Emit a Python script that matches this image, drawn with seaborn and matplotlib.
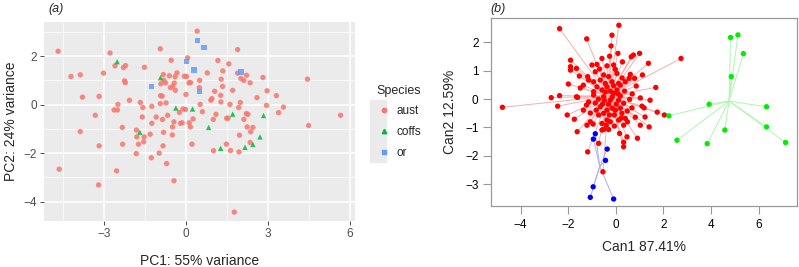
import matplotlib
matplotlib.use('Agg')
import matplotlib.pyplot as plt
import seaborn as sns
import pandas as pd
import numpy as np
from matplotlib.lines import Line2D
from matplotlib.patches import Rectangle

# ---- panel (a): PCA scores ----
aust_pc1 = [-4.69, -2.79, -2.61, -2.22, -2.30, -1.53, -0.95, -0.55, 0.40, -4.22, -3.88, -3.03, -2.26, -2.23,
            -0.84, -0.62, -0.34, -0.41, 0.01, 0.05, -0.82, -0.93, -0.76, -0.58, -0.44, -0.49, -0.40, 0.10,
            0.16, -0.01, 0.49, -3.80, -3.19, -2.08, -1.68, -2.50, -2.64, -2.52, -1.59, -1.26, -0.94, -0.88,
            -0.95, -0.74, -0.25, -0.03, 0.51, -0.68, -3.33, -1.61, -1.10, -0.87, -1.26, -0.45, -0.21, 0.11,
            0.15, 0.25, -2.34, -3.88, -1.82, -1.32, -0.83, -0.51, -0.50, -1.81, -1.54, -3.19, -2.33, -1.75,
            -1.56, -0.85, 0.21, -1.83, -0.99, -1.28, -0.72, -4.65, -2.55, -0.45, -3.21, 1.95, 2.36, 2.34,
            1.47, 1.00, 1.62, 1.93, 1.76, 1.88, 1.16, 1.56, 0.77, 1.34, 1.88, 2.21, -0.07, 1.28, 2.00, 2.11,
            2.34, 2.81, 4.44, 0.48, 1.33, 1.70, 1.04, 2.96, 3.30, 1.26, 2.59, 0.90, 0.94, 1.27, 1.98, 1.60,
            2.94, 3.56, 1.92, -0.12, 0.59, 3.38, 5.65, 2.20, 2.26, 1.09, 1.48, 1.53, 0.99, 2.11, -0.15, 4.48,
            2.23, 2.44]
aust_pc2 = [2.20, 2.13, 1.60, 1.61, 1.53, 1.54, 2.30, 1.83, 3.03, 1.16, 1.23, 1.30, 0.98, 0.90,
            1.24, 1.19, 1.31, 1.15, 1.16, 1.93, 1.00, 0.86, 0.90, 0.70, 0.89, 0.75, 0.59, 0.90,
            0.91, 0.42, 1.00, 0.31, 0.34, 0.18, 0.09, 0.01, -0.22, -0.22, -0.12, -0.07, 0.37, 0.35,
            0.04, 0.07, -0.32, -0.20, 0.01, -0.44, -0.44, -0.51, -0.51, -0.61, -0.77, -0.71, -0.77, -0.75,
            -0.92, -0.59, -0.94, -1.11, -1.05, -1.22, -1.14, -1.25, -0.92, -1.33, -1.33, -1.70, -1.63, -1.63,
            -1.53, -1.70, -1.63, -2.02, -2.00, -2.19, -2.43, -2.66, -2.73, -3.14, -3.31, -1.26, -1.12, -1.56,
            -1.63, -1.90, -1.89, -1.95, -4.43, 2.27, 1.82, 1.68, 1.31, 1.39, 1.30, 1.21, 1.17, 1.05, 1.08, 1.00,
            0.90, 1.12, 1.05, 0.70, 0.75, 0.59, 0.55, 0.57, 0.37, 0.38, 0.29, 0.18, 0.25, 0.11, 0.09, 0.01,
            -0.03, -0.10, -0.12, -0.18, -0.29, -0.33, -0.44, -0.37, -0.40, -0.40, -0.56, -0.56, -0.61, -0.61, -0.75, -0.86,
            -0.92, -0.94]
coffs_pc1 = [-2.53, -0.94, -0.38, 0.23, -1.70, 1.70, 2.83, 0.82, 2.70, 2.44, 1.26, 2.15]
coffs_pc2 = [1.77, 1.11, -0.14, -0.18, -1.14, -0.39, -0.45, -0.94, -1.33, -1.64, -1.80, -1.76]
or_pc1 = [0.41, 0.65, 0.00, 0.29, -1.28, 0.49, 2.00]
or_pc2 = [2.65, 2.36, 1.77, 1.43, 0.75, 0.55, 1.34]

# ---- panel (b): canonical scores ----
red_can1 = [-2.36, -1.22, -0.16, -0.20, 0.13, -0.26, -0.58, -1.90, -1.90, -1.90, -1.65, -1.00, -0.79, -0.68,
            -0.86, -0.37, -0.09, -0.02, -1.18, -1.14, -0.93, -0.51, -0.30, -0.65, -0.44, -0.16, -0.79, -0.37,
            -0.09, -0.93, -0.58, -0.23, 0.05, 0.09, 0.65, 0.74, 1.00, 0.28, 1.37, 0.61, 0.56, 0.79, 1.12, 0.05,
            0.12, 0.19, 0.37, 1.68, 2.74, 0.40, 0.58, 0.33, 1.10, 1.19, 0.68, 2.04, 0.26, 0.40, 0.82, 0.49,
            1.03, 1.40, 0.33, 0.47, 0.91, 0.33, 0.33, 0.16, -1.65, -1.23, -1.14, -2.04, -1.74, -1.21, -1.07,
            -0.95, -1.62, -0.58, -0.51, -0.30, -0.37, -0.23, -0.72, -1.18, -0.65, -0.51, -0.72, -0.37, -0.02,
            0.12, -0.93, -0.51, -0.23, 0.12, -0.09, -0.54, -0.58, -4.76, -2.71, -2.36, -1.60, -2.44, -0.48,
            -0.31, -0.15, 0.02, 0.19, -0.73, -0.56, -0.06, -0.27, 0.19, -0.82, -0.15, 0.10, -0.44, -0.86, 0.23,
            -0.40, -0.06, -1.36, -1.49, 0.48, 0.69, 0.27, 1.03, 0.86, -1.36, -1.53, 1.44, 1.74, 1.23, -1.99, -1.07]
red_can2 = [2.48, 2.12, 2.25, 1.87, 2.60, 1.51, 1.43, 1.37, 1.14, 1.02, 1.08, 1.20, 1.22, 1.06,
            0.96, 1.17, 1.20, 1.05, 0.79, 0.67, 0.61, 0.85, 0.79, 0.67, 0.55, 0.61, 0.43, 0.43,
            0.47, 0.26, 0.32, 0.28, 0.32, 1.61, 1.49, 1.55, 1.61, 1.31, 1.26, 0.87, 0.73, 0.73, 0.85, 0.90,
            0.55, 0.49, 0.28, 0.41, 1.43, 0.61, -0.01, -0.15, -0.25, -0.31, -0.31, -0.56, -0.50, -0.68, -0.64, -0.80,
            -0.92, -0.98, -0.92, -1.33, -1.38, -1.52, -1.68, -1.21, 0.08, -0.21, -0.10, -0.56, -0.71, -0.92, -0.80,
            -0.88, -1.15, -0.86, -1.07, -1.07, -0.74, -0.80, -1.56, -1.86, -0.27, -0.50, -0.56, -0.39, -0.39,
            -0.74, 0.14, 0.08, -0.04, -0.04, 0.20, -2.56, -1.09, -0.29, 0.05, 0.12, 0.06, -0.25, -0.04,
            -0.18, 0.07, -0.18, 0.11, 0.00, -0.18, -0.56, -0.56, -0.32, -0.39, -0.32, 0.18, 0.25, -0.14, -0.67,
            -0.92, -0.95, -0.39, 0.39, -0.42, 0.18, 0.74, 0.04, 0.46, 0.49, 0.81, -0.04, -0.46, -0.63, 0.53, -0.49]
green_can1 = [4.82, 5.13, 5.36, 4.85, 3.92, 2.23, 6.33, 6.33, 4.58, 2.57, 3.84, 7.13]
green_can2 = [2.17, 2.26, 1.60, 0.79, -0.18, -0.59, -0.27, -0.98, -1.09, -1.45, -1.57, -1.53]
blue_can1 = [-0.86, -0.94, -0.36, -0.43, -0.95, -1.07, -0.09]
blue_can2 = [-1.22, -1.41, -1.76, -2.16, -3.09, -3.46, -3.52]

species = ['aust', 'coffs', 'or']
pal_a = {'aust': '#F8766D', 'coffs': '#00BA38', 'or': '#619CFF'}
marks_a = {'aust': 'o', 'coffs': '^', 'or': 's'}

df_a = pd.DataFrame({
    'PC1': aust_pc1 + coffs_pc1 + or_pc1,
    'PC2': aust_pc2 + coffs_pc2 + or_pc2,
    'Species': ['aust'] * len(aust_pc1) + ['coffs'] * len(coffs_pc1) + ['or'] * len(or_pc1),
})
df_b = pd.DataFrame({
    'Can1': red_can1 + green_can1 + blue_can1,
    'Can2': red_can2 + green_can2 + blue_can2,
    'Species': ['aust'] * len(red_can1) + ['coffs'] * len(green_can1) + ['or'] * len(blue_can1),
})

sns.set_style('white')
plt.rcParams['font.family'] = ['Liberation Sans', 'DejaVu Sans']

fig = plt.figure(figsize=(7.99, 2.67), dpi=100)
ax_a = fig.add_axes([0.055, 0.172, 0.389, 0.745])
ax_b = fig.add_axes([0.6145, 0.228, 0.383, 0.704])

# ggplot-like grey panel
ax_a.set_facecolor('#EBEBEB')
for s in ax_a.spines.values():
    s.set_visible(False)
for v in [-4.5, -1.5, 1.5, 4.5]:
    ax_a.axvline(v, color='white', lw=0.5, zorder=0)
for v in [-3, -1, 1, 3]:
    ax_a.axhline(v, color='white', lw=0.5, zorder=0)
for v in [-3, 0, 3, 6]:
    ax_a.axvline(v, color='white', lw=1.1, zorder=0)
for v in [-4, -2, 0, 2]:
    ax_a.axhline(v, color='white', lw=1.1, zorder=0)

sns.scatterplot(data=df_a, x='PC1', y='PC2', hue='Species', style='Species',
                palette=pal_a, markers=marks_a, s=15, linewidth=0, alpha=0.85,
                legend=False, ax=ax_a, zorder=3)
ax_a.set_xlim(-5.21, 6.17)
ax_a.set_ylim(-4.80, 3.40)
ax_a.set_xticks([-3, 0, 3, 6])
ax_a.set_yticks([-4, -2, 0, 2])
ax_a.tick_params(axis='both', length=3, width=0.6, color='#333333', labelsize=8.5,
                 labelcolor='#4D4D4D', pad=2, direction='out', bottom=True, left=True)
ax_a.set_xlabel('PC1: 55% variance', fontsize=10, labelpad=10)
ax_a.set_ylabel('PC2: 24% variance', fontsize=10, labelpad=4)
fig.text(0.061, 0.968, '(a)', fontsize=9, style='italic', ha='left', va='center')

# legend with grey key column
fig.patches.append(Rectangle((370 / 799, 1 - 162 / 267), 16 / 799, 62 / 267,
                             transform=fig.transFigure, color='#EBEBEB', zorder=0))
handles = [Line2D([], [], marker=marks_a[k], color=pal_a[k], ls='', markersize=3.2) for k in species]
leg = fig.legend(handles, species, title='Species', loc='upper left',
                 bbox_to_anchor=(366 / 799, 1 - 74 / 267), frameon=False, fontsize=8.5,
                 title_fontsize=9, handlelength=1.2, handletextpad=0.5, labelspacing=0.75)
leg._legend_box.align = 'left'

# ---- panel (b) ----
line_cols = {'aust': '#F7AFAF', 'coffs': '#B0F5B0', 'or': '#ADADF5'}
pt_cols = {'aust': '#FF0000', 'coffs': '#00EE00', 'or': '#0000FF'}
for sp in species:
    sub = df_b[df_b['Species'] == sp]
    cx, cy = sub['Can1'].mean(), sub['Can2'].mean()
    for x, y in zip(sub['Can1'], sub['Can2']):
        ax_b.plot([cx, x], [cy, y], color=line_cols[sp], lw=0.7, zorder=1)
sns.scatterplot(data=df_b, x='Can1', y='Can2', hue='Species', palette=pt_cols,
                s=15, linewidth=0, legend=False, ax=ax_b, zorder=3)
ax_b.set_xlim(-5.24, 7.61)
ax_b.set_ylim(-3.77, 2.85)
ax_b.set_xticks([-4, -2, 0, 2, 4, 6])
ax_b.set_yticks([-3, -2, -1, 0, 1, 2])
for s in ax_b.spines.values():
    s.set_visible(True)
    s.set_color('#999999')
    s.set_linewidth(0.9)
ax_b.tick_params(axis='both', length=6, width=0.8, color='#999999', labelsize=8.5,
                 labelcolor='black', pad=3, direction='out', bottom=True, left=True)
ax_b.set_xlabel('Can1 87.41%', fontsize=10, labelpad=7)
ax_b.set_ylabel('Can2 12.59%', fontsize=10, labelpad=6)
fig.text(0.614, 0.968, '(b)', fontsize=9, style='italic', ha='left', va='center')

fig.savefig('out.png', dpi=100)
